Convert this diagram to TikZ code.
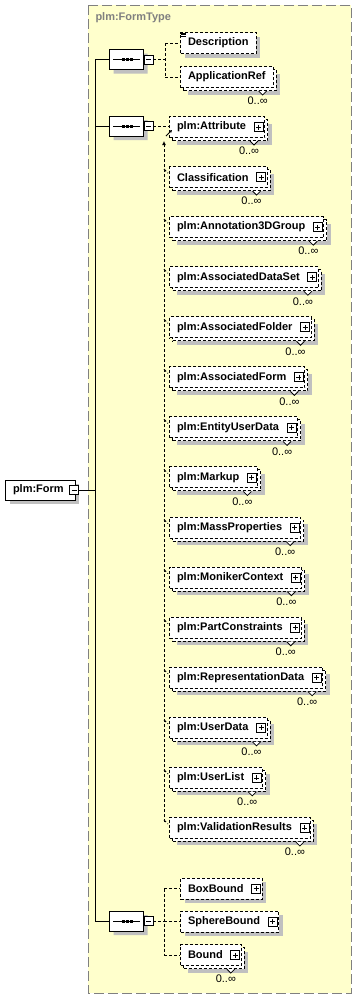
\documentclass[tikz,border=0pt]{standalone}
\usepackage{fontspec}
\setmainfont{Liberation Sans}
\usepackage{tikz}
\usetikzlibrary{arrows.meta,shapes.misc,shadows}
\definecolor{paleyellow}{HTML}{FFFFCC}
\definecolor{framegray}{HTML}{808080}
\definecolor{shadowgray}{HTML}{C0C0C0}

\newcommand{\plusmark}[1]{%
  \draw[line width=0.8pt,solid,fill=white] ([shift={(-11,-4.5)}]#1.east) rectangle ++(9,9);
  \draw[line width=0.8pt,solid] ([shift={(-9,0)}]#1.east) -- ++(5,0)
    ([shift={(-6.5,-2.5)}]#1.east) -- ++(0,5);}
\newcommand{\minusmark}[2]{%
  \draw[line width=0.8pt,solid,fill=white] ([shift={(#2,-4.5)}]#1.east) rectangle ++(9,9);
  \draw[line width=0.8pt,solid] ([shift={(#2+2,0)}]#1.east) -- ++(5,0);}
\newcommand{\notchmark}[1]{%
  \fill[white] ([shift={(-15,3)}]#1.south east) -- ++(4,4) -- ++(4,-4) -- cycle;
  \draw[line width=0.8pt] ([shift={(-15,3)}]#1.south east) -- ++(4,4) -- ++(4,-4);}
\newcommand{\multlabel}[1]{%
  \node[mult] at ([shift={(-16,13)}]#1.south east) {0..∞};}

\begin{document}
\begin{tikzpicture}[x=1pt,y=-1pt,line width=1pt,
  txt/.style={font=\fontsize{11}{13}\selectfont},
  conn/.style={dash pattern=on 3pt off 2pt},
  box/.style={draw,dash pattern=on 3pt off 2pt,fill=white,
    font=\fontsize{11}{13}\selectfont\bfseries,anchor=west,
    minimum height=21pt,inner ysep=0pt,inner xsep=7.5pt},
  elem/.style={box,general shadow={shadow xshift=4pt,shadow yshift=-4pt,fill=shadowgray}},
  manyelem/.style={box,
    general shadow={shadow xshift=7pt,shadow yshift=-7pt,fill=shadowgray},
    general shadow={shadow xshift=3pt,shadow yshift=-3pt,fill=white,draw=black,
      dash pattern=on 3pt off 2pt}},
  haspart/.style={execute at end node={\hspace{11pt}}},
  rootelem/.style={elem,solid,minimum height=20pt,execute at end node={\hspace{4pt}}},
  seq/.style={chamfered rectangle,chamfered rectangle xsep=6pt,draw,fill=white,
    anchor=west,minimum width=34pt,minimum height=20pt,inner sep=0pt,
    general shadow={shadow xshift=4pt,shadow yshift=-4pt,fill=shadowgray}},
  mult/.style={txt,inner sep=0pt}]
\useasboundingbox (0,0) rectangle (357,999);

% complex type frame
\draw[framegray,fill=paleyellow,dash pattern=on 10pt off 4pt] (88,5) rectangle (351,993);
\node[anchor=west,inner sep=0pt,text=framegray,font=\fontsize{11}{13}\selectfont\bfseries]
  (ftype) at (95,18) {plm:FormType};

% root element and trunk
\coordinate (trunk) at (95,0);
\coordinate (v1) at (165,0);
\coordinate (v3) at (164,0);
\node[rootelem] (form) at (5,490) {plm:Form};
\minusmark{form}{-6}
\draw ([shift={(3,0)}]form.east) -- (form.east -| trunk);

% sequences
\node[seq] (seq1) at (109,59.5) {};
\node[seq] (seq2) at (109,126) {};
\node[seq] (seq3) at (109,921) {};
\draw (seq1 -| trunk) -- (seq3 -| trunk);
\foreach \s in {seq1,seq2,seq3}{
  \draw ([shift={(4,0)}]\s.west) -- ([shift={(-4,0)}]\s.east);
  \foreach \d in {-5,-1,3} \fill ([shift={(\d,-1.5)}]\s.center) rectangle ++(3,3);
  \minusmark{\s}{0}
  \draw (\s -| trunk) -- (\s.west);
}

% first sequence
\node[elem] (desc) at (180,43) {Description};
\node[manyelem] (appref) at (180,77) {ApplicationRef};
\foreach \k in {1.2,2.7,4.2}
  \draw[line width=0.6pt] ([shift={(1,\k)}]desc.north west) -- ++(5,0);
\draw[conn] ([shift={(9,0)}]seq1.east) -- (seq1 -| v1);
\draw[conn] (desc -| v1) -- (appref -| v1);
\draw[conn] (desc -| v1) -- (desc.west);
\draw[conn] (appref -| v1) -- (appref.west);
\notchmark{appref}
\multlabel{appref}

% second sequence
\foreach \lab [count=\i] in {plm:Attribute,Classification,plm:Annotation3DGroup,
    plm:AssociatedDataSet,plm:AssociatedFolder,plm:AssociatedForm,plm:EntityUserData,
    plm:Markup,plm:MassProperties,plm:MonikerContext,plm:PartConstraints,
    plm:RepresentationData,plm:UserData,plm:UserList,plm:ValidationResults}
  \node[manyelem,haspart] (g\i) at (169,{127+50.07*(\i-1)}) {\lab};
\foreach \i in {1,...,15}{
  \plusmark{g\i}
  \notchmark{g\i}
  \multlabel{g\i}
}
\coordinate (v2top) at (164,141);
\coordinate (v2bot) at (164,822);
\draw[conn] ([shift={(9,0)}]seq2.east) -- (seq2 -| g1.west);
\draw[conn,-{Latex[length=4pt,width=4pt]}] (v2bot) -- (v2top);
\foreach \i in {2,...,15}
  \draw[conn] ([shift={(-5,3)}]g\i.north west) -- ++(4,4);
\draw[line width=0.8pt,-{Stealth[length=3pt,width=3pt]}]
  ([shift={(-3,-2)}]g1.south west) -- ++(6,-6);

% third sequence
\node[elem,haspart] (boxb) at (180,888.5) {BoxBound};
\node[elem,haspart] (sphb) at (180,921.5) {SphereBound};
\node[manyelem,haspart] (bnd) at (180,955) {Bound};
\draw[conn] ([shift={(9,0)}]seq3.east) -- (seq3 -| v3);
\draw[conn] (boxb -| v3) -- (bnd -| v3);
\foreach \n in {boxb,sphb,bnd}{
  \draw[conn] (\n -| v3) -- (\n.west);
  \plusmark{\n}
}
\notchmark{bnd}
\multlabel{bnd}
\end{tikzpicture}
\end{document}
